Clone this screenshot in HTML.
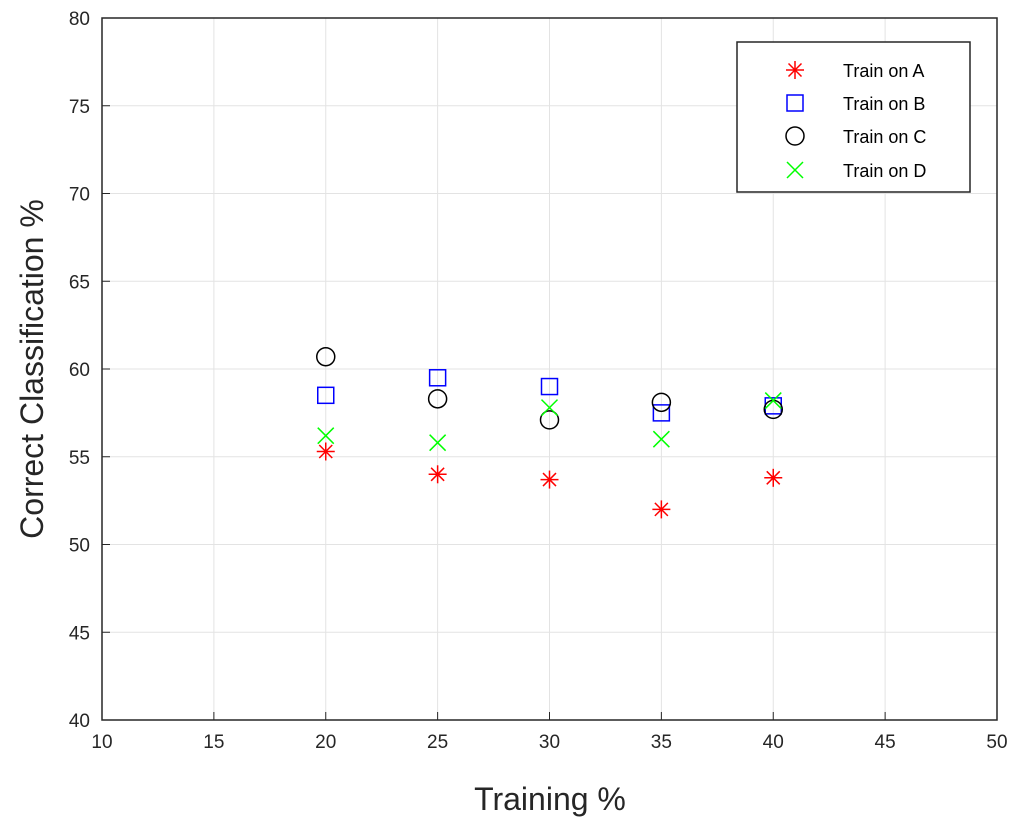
<!DOCTYPE html>
<html><head><meta charset="utf-8"><style>
body{margin:0;background:#fff;width:1024px;height:831px;overflow:hidden}
svg text{font-family:"Liberation Sans",sans-serif}
</style></head><body>
<svg id="chart" width="1024" height="831">
<g id="grid"></g><g id="ticks"></g><g id="marks"></g>
<rect x="102" y="18" width="895" height="702" fill="none" stroke="#262626" stroke-width="1.5"/>
<text x="550" y="810" font-size="32" text-anchor="middle" fill="#262626">Training %</text>
<text transform="translate(43,369) rotate(-90)" font-size="32" text-anchor="middle" fill="#262626">Correct Classification %</text>
<g>
<rect x="737" y="42" width="233" height="150" fill="#fff" stroke="#262626" stroke-width="1.5"/>
<g id="legend"></g>
</g>
</svg>
<script>
const xs=[20,25,30,35,40];
const seriesA=[55.3,54.0,53.7,52.0,53.8];
const seriesB=[58.5,59.5,59.0,57.5,57.9];
const seriesC=[60.7,58.3,57.1,58.1,57.7];
const seriesD=[56.2,55.8,57.8,56.0,58.2];
const xTicks=[10,15,20,25,30,35,40,45,50];
const yTicks=[40,45,50,55,60,65,70,75,80];
const labels=["Train on A","Train on B","Train on C","Train on D"];
const NS="http://www.w3.org/2000/svg";
function X(v){return 102+(v-10)/40*895;}
function Y(v){return 720-(v-40)/40*702;}
function mk(t,a,p){const e=document.createElementNS(NS,t);for(const k in a)e.setAttribute(k,a[k]);p.appendChild(e);return e;}
const grid=document.getElementById('grid'),ticks=document.getElementById('ticks'),marks=document.getElementById('marks');
xTicks.forEach(v=>{const x=X(v);
const g=mk('line',{x1:x,x2:x,y1:18,y2:720,stroke:'#e3e3e3','stroke-width':1},grid);

mk('line',{x1:x,x2:x,y1:720,y2:712,stroke:'#262626'},ticks);
const t=mk('text',{x:x,y:748,'font-size':19,'text-anchor':'middle',fill:'#262626'},ticks);t.textContent=v;
});
yTicks.forEach(v=>{const y=Y(v);
const g=mk('line',{x1:102,x2:997,y1:y,y2:y,stroke:'#e3e3e3','stroke-width':1},grid);

mk('line',{x1:102,x2:110,y1:y,y2:y,stroke:'#262626'},ticks);
const t=mk('text',{x:90,y:y+7,'font-size':19,'text-anchor':'end',fill:'#262626'},ticks);t.textContent=v;
});
function marker(type,x,y,p){const g=mk('g',{},p);
if(type==0){['M-9 0H9','M0 -9V9','M-6.5 -6.5L6.5 6.5','M-6.5 6.5L6.5 -6.5'].forEach(d=>mk('path',{d:d,transform:`translate(${x},${y})`,stroke:'#ff0000','stroke-width':1.5},g));}
else if(type==1)mk('rect',{x:x-8,y:y-8,width:16,height:16,fill:'none',stroke:'#0000ff','stroke-width':1.5},g);
else if(type==2)mk('circle',{cx:x,cy:y,r:9,fill:'none',stroke:'#000','stroke-width':1.5},g);
else ['M-8 -8L8 8','M-8 8L8 -8'].forEach(d=>mk('path',{d:d,transform:`translate(${x},${y})`,stroke:'#00ff00','stroke-width':1.5},g));
return g;}
const all=[seriesA,seriesB,seriesC,seriesD];
const names=['point-train-a','point-train-b','point-train-c','point-train-d'];
all.forEach((s,i)=>s.forEach((v,j)=>{const g=marker(i,X(xs[j]),Y(v),marks);

}));
const leg=document.getElementById('legend');const ly=[70,103,136,170];
labels.forEach((l,i)=>{const g=marker(i,795,ly[i],leg);


const t=mk('text',{x:843,y:ly[i]+7,'font-size':18,fill:'#000'},leg);t.textContent=l;

});
</script>
</body></html>
